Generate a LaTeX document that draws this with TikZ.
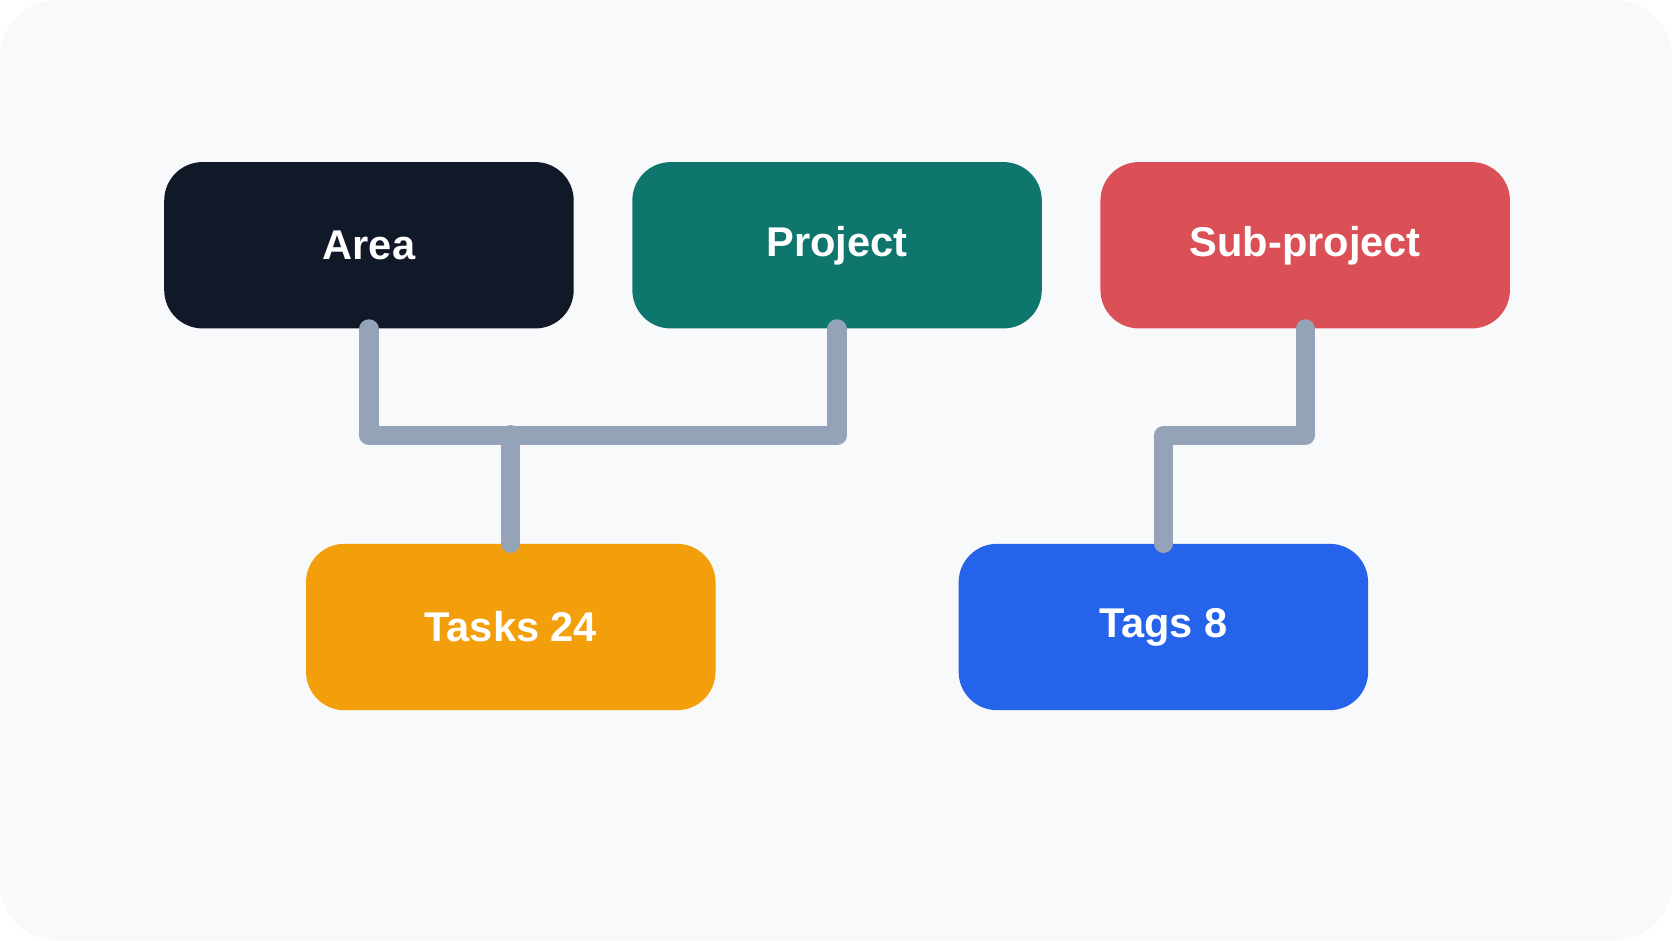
\documentclass[tikz,border=0pt]{standalone}
\usepackage{fontspec}
\setmainfont{Liberation Sans}
\definecolor{bg}{HTML}{F8F9FB}
\definecolor{cArea}{HTML}{111827}
\definecolor{cProj}{HTML}{0F766E}
\definecolor{cSub}{HTML}{DB4F57}
\definecolor{cTask}{HTML}{F39F0C}
\definecolor{cTag}{HTML}{2563EB}
\definecolor{cLine}{HTML}{94A3B8}
\begin{document}
\begin{tikzpicture}[x=0.5pt,y=-0.5pt,
 box/.style={minimum width=192pt,minimum height=78pt,rounded corners=18pt,inner sep=0pt,text=white,font=\fontsize{19.5}{22}\selectfont\bfseries},
 conn/.style={draw=cLine,line width=9pt,line cap=round,line join=round}]
\fill[white] (0,0) rectangle (1568,882);
\fill[bg,rounded corners=27pt] (0,0) rectangle (1568,882);
\useasboundingbox (0,0) rectangle (1568,882);
\node[box,fill=cArea] (area) at (346,230) {Area};
\node[box,fill=cProj] (project) at (785,230) {Project};
\node[box,fill=cSub] (sub) at (1224,230) {Sub-project};
\node[box,fill=cTask] (tasks) at (479,588) {Tasks 24};
\node[box,fill=cTag] (tags) at (1091,588) {Tags 8};
\draw[conn] (area.south) -- ++(0,100) -| (project.south);
\draw[conn] (tasks.north) -- ++(0,-102);
\draw[conn] (sub.south) -- ++(0,100) -| (tags.north);
\end{tikzpicture}
\end{document}
